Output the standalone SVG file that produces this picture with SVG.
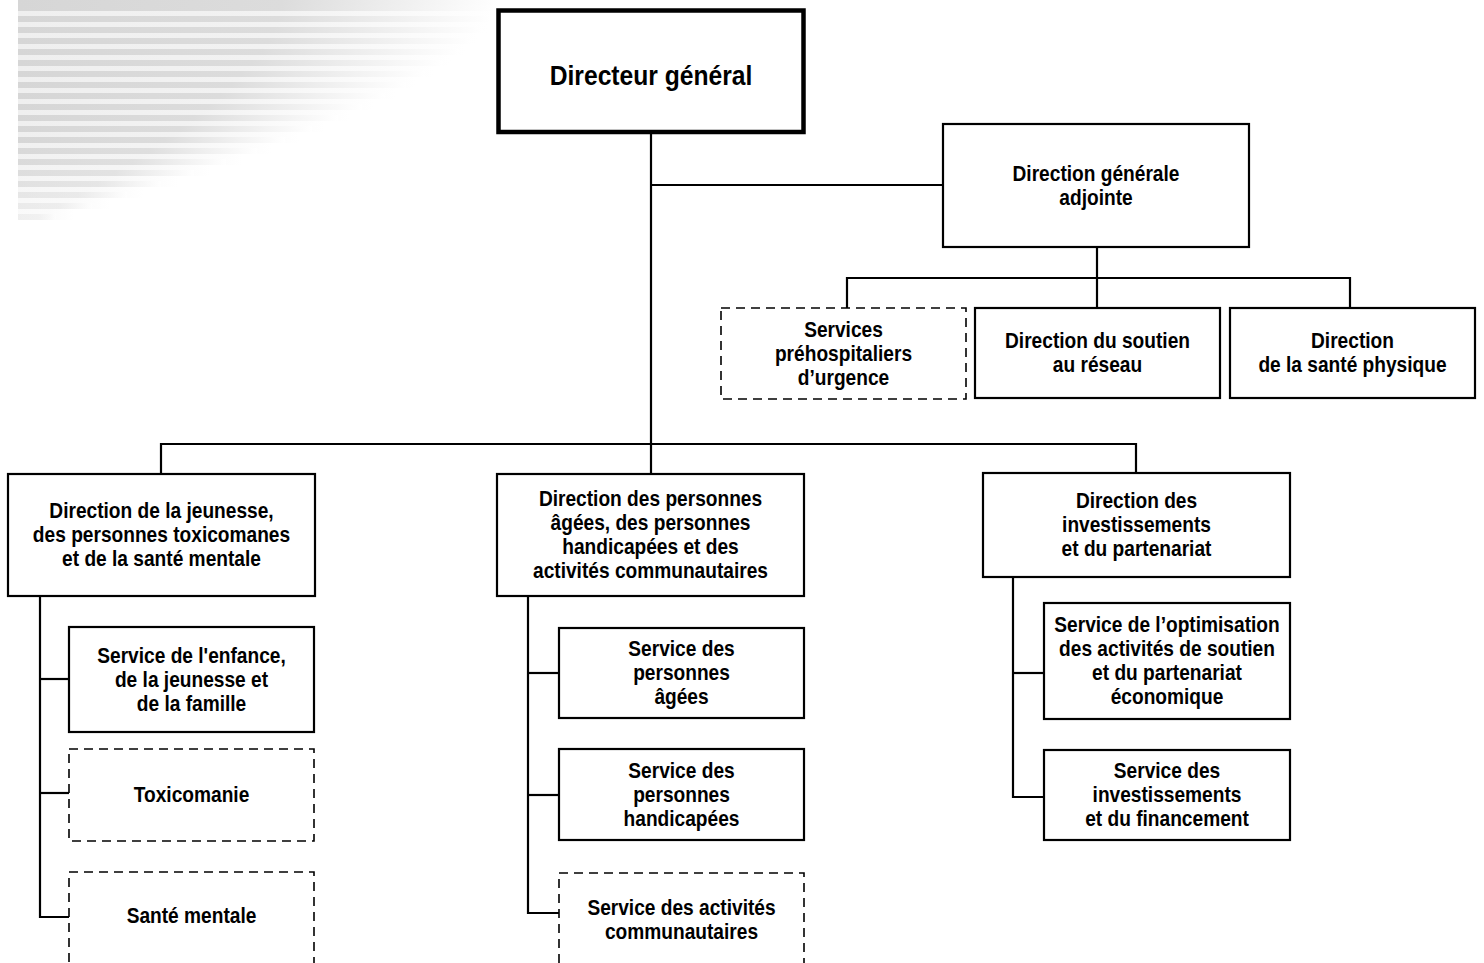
<svg xmlns="http://www.w3.org/2000/svg" width="1484" height="963" viewBox="0 0 1484 963">
<style>
.box{fill:#fff;stroke:#000;stroke-width:2.2}
.dash{fill:#fff;stroke:#000;stroke-width:1.6;stroke-dasharray:9 6}
.main{fill:#fff;stroke:#000;stroke-width:4.5}
.t{font-family:"Liberation Sans",Arial,sans-serif;font-weight:bold;font-size:22px;text-anchor:middle;fill:#000}
.tt{font-size:28px}
.c{fill:none;stroke:#000;stroke-width:2.2}
.s{fill:url(#sg);height:6px}
.l{fill:url(#lg);height:11px}
</style>
<defs>
<linearGradient id="sg" x1="0" y1="0" x2="1" y2="0">
<stop offset="0" stop-color="#d6d6d6"/>
<stop offset="0.55" stop-color="#dcdcdc"/>
<stop offset="1" stop-color="#ffffff"/>
</linearGradient>
<linearGradient id="lg" x1="0" y1="0" x2="1" y2="0">
<stop offset="0" stop-color="#efefef"/>
<stop offset="0.55" stop-color="#f2f2f2"/>
<stop offset="1" stop-color="#ffffff"/>
</linearGradient>
</defs>
<g id="background">
<rect class="l" x="18" y="0" width="480"/>
<rect class="l" x="18" y="11" width="476"/>
<rect class="l" x="18" y="22" width="470"/>
<rect class="l" x="18" y="33" width="460"/>
<rect class="l" x="18" y="44" width="448"/>
<rect class="l" x="18" y="55" width="433"/>
<rect class="l" x="18" y="66" width="416"/>
<rect class="l" x="18" y="77" width="398"/>
<rect class="l" x="18" y="88" width="378"/>
<rect class="l" x="18" y="99" width="356"/>
<rect class="l" x="18" y="110" width="332"/>
<rect class="l" x="18" y="121" width="307"/>
<rect class="l" x="18" y="132" width="281"/>
<rect class="l" x="18" y="143" width="253" opacity="0.9"/>
<rect class="l" x="18" y="154" width="224" opacity="0.85"/>
<rect class="l" x="18" y="165" width="192" opacity="0.75"/>
<rect class="l" x="18" y="176" width="160" opacity="0.65"/>
<rect class="l" x="18" y="187" width="126" opacity="0.55"/>
<rect class="l" x="18" y="198" width="92" opacity="0.45"/>
<rect class="l" x="18" y="209" width="56" opacity="0.35"/>
<rect class="s" x="18" y="-1" width="480"/>
<rect class="s" x="18" y="5" width="477"/>
<rect class="s" x="18" y="16" width="473"/>
<rect class="s" x="18" y="27" width="465"/>
<rect class="s" x="18" y="38" width="454"/>
<rect class="s" x="18" y="49" width="441"/>
<rect class="s" x="18" y="60" width="425"/>
<rect class="s" x="18" y="71" width="407"/>
<rect class="s" x="18" y="82" width="388"/>
<rect class="s" x="18" y="93" width="367"/>
<rect class="s" x="18" y="104" width="344"/>
<rect class="s" x="18" y="115" width="320"/>
<rect class="s" x="18" y="126" width="294"/>
<rect class="s" x="18" y="137" width="267"/>
<rect class="s" x="18" y="148" width="239" opacity="0.9"/>
<rect class="s" x="18" y="159" width="208" opacity="0.85"/>
<rect class="s" x="18" y="170" width="176" opacity="0.75"/>
<rect class="s" x="18" y="181" width="143" opacity="0.65"/>
<rect class="s" x="18" y="192" width="109" opacity="0.5"/>
<rect class="s" x="18" y="203" width="74" opacity="0.4"/>
<rect class="s" x="18" y="214" width="38" opacity="0.3"/>
</g>
<g id="connectors">
<path class="c" d="M651 132V444"/>
<path class="c" d="M651 185H943"/>
<path class="c" d="M1097 247V278"/>
<path class="c" d="M847 308V278H1350V308"/>
<path class="c" d="M1097 278V308"/>
<path class="c" d="M161 474V444H1136V474"/>
<path class="c" d="M651 444V474"/>
<path class="c" d="M40 596V917H69"/>
<path class="c" d="M40 679H69"/>
<path class="c" d="M40 793H69"/>
<path class="c" d="M528 596V913H559"/>
<path class="c" d="M528 673H559"/>
<path class="c" d="M528 795H559"/>
<path class="c" d="M1013 577V797H1044"/>
<path class="c" d="M1013 673H1044"/>
</g>
<g id="directeur-general">
<rect class="main" x="498.5" y="10.5" width="305" height="121.5"/>
<g transform="translate(651 0) scale(0.88 1)"><text class="t tt" x="0" y="85">Directeur général</text></g>
</g>
<g id="dga">
<rect class="box" x="943" y="124" width="306" height="123"/>
<g transform="translate(1096 0) scale(0.87 1)">
<text class="t" x="0" y="181">Direction générale</text>
<text class="t" x="0" y="205">adjointe</text>
</g>
</g>
<g id="services-prehospitaliers">
<rect class="dash" x="721" y="308" width="245" height="91"/>
<g transform="translate(843.5 0) scale(0.87 1)">
<text class="t" x="0" y="337">Services</text>
<text class="t" x="0" y="361">préhospitaliers</text>
<text class="t" x="0" y="385">d’urgence</text>
</g>
</g>
<g id="soutien-reseau">
<rect class="box" x="975" y="308" width="245" height="90"/>
<g transform="translate(1097.5 0) scale(0.87 1)">
<text class="t" x="0" y="348.5">Direction du soutien</text>
<text class="t" x="0" y="372.5">au réseau</text>
</g>
</g>
<g id="sante-physique">
<rect class="box" x="1230" y="308" width="245" height="90"/>
<g transform="translate(1352.5 0) scale(0.87 1)">
<text class="t" x="0" y="348.5">Direction</text>
<text class="t" x="0" y="372.5">de la santé physique</text>
</g>
</g>
<g id="jeunesse">
<rect class="box" x="8" y="474" width="307" height="122"/>
<g transform="translate(161.5 0) scale(0.87 1)">
<text class="t" x="0" y="518.5">Direction de la jeunesse,</text>
<text class="t" x="0" y="542.5">des personnes toxicomanes</text>
<text class="t" x="0" y="566.5">et de la santé mentale</text>
</g>
</g>
<g id="personnes-agees-dir">
<rect class="box" x="497" y="474" width="307" height="122"/>
<g transform="translate(650.5 0) scale(0.87 1)">
<text class="t" x="0" y="506.5">Direction des personnes</text>
<text class="t" x="0" y="530.5">âgées, des personnes</text>
<text class="t" x="0" y="554.5">handicapées et des</text>
<text class="t" x="0" y="578.5">activités communautaires</text>
</g>
</g>
<g id="investissements-dir">
<rect class="box" x="983" y="473" width="307" height="104"/>
<g transform="translate(1136.5 0) scale(0.87 1)">
<text class="t" x="0" y="508.5">Direction des</text>
<text class="t" x="0" y="532.5">investissements</text>
<text class="t" x="0" y="556.5">et du partenariat</text>
</g>
</g>
<g id="enfance">
<rect class="box" x="69" y="627" width="245" height="105"/>
<g transform="translate(191.5 0) scale(0.87 1)">
<text class="t" x="0" y="663.5">Service de l'enfance,</text>
<text class="t" x="0" y="687.5">de la jeunesse et</text>
<text class="t" x="0" y="711.5">de la famille</text>
</g>
</g>
<g id="toxicomanie">
<rect class="dash" x="69" y="749" width="245" height="92"/>
<g transform="translate(191.5 0) scale(0.87 1)">
<text class="t" x="0" y="802.5">Toxicomanie</text>
</g>
</g>
<g id="sante-mentale">
<rect class="dash" x="69" y="872" width="245" height="100"/>
<g transform="translate(191.5 0) scale(0.87 1)">
<text class="t" x="0" y="923">Santé mentale</text>
</g>
</g>
<g id="personnes-agees">
<rect class="box" x="559" y="628" width="245" height="90"/>
<g transform="translate(681.5 0) scale(0.87 1)">
<text class="t" x="0" y="656.5">Service des</text>
<text class="t" x="0" y="680.5">personnes</text>
<text class="t" x="0" y="704.5">âgées</text>
</g>
</g>
<g id="personnes-handicapees">
<rect class="box" x="559" y="749" width="245" height="91"/>
<g transform="translate(681.5 0) scale(0.87 1)">
<text class="t" x="0" y="778">Service des</text>
<text class="t" x="0" y="802">personnes</text>
<text class="t" x="0" y="826">handicapées</text>
</g>
</g>
<g id="activites-communautaires">
<rect class="dash" x="559" y="873" width="245" height="100"/>
<g transform="translate(681.5 0) scale(0.87 1)">
<text class="t" x="0" y="915">Service des activités</text>
<text class="t" x="0" y="939">communautaires</text>
</g>
</g>
<g id="optimisation">
<rect class="box" x="1044" y="603" width="246" height="116"/>
<g transform="translate(1167 0) scale(0.87 1)">
<text class="t" x="0" y="632.5">Service de l’optimisation</text>
<text class="t" x="0" y="656.5">des activités de soutien</text>
<text class="t" x="0" y="680.5">et du partenariat</text>
<text class="t" x="0" y="704.5">économique</text>
</g>
</g>
<g id="investissements-financement">
<rect class="box" x="1044" y="750" width="246" height="90"/>
<g transform="translate(1167 0) scale(0.87 1)">
<text class="t" x="0" y="778.5">Service des</text>
<text class="t" x="0" y="802.5">investissements</text>
<text class="t" x="0" y="826.5">et du financement</text>
</g>
</g>
</svg>
